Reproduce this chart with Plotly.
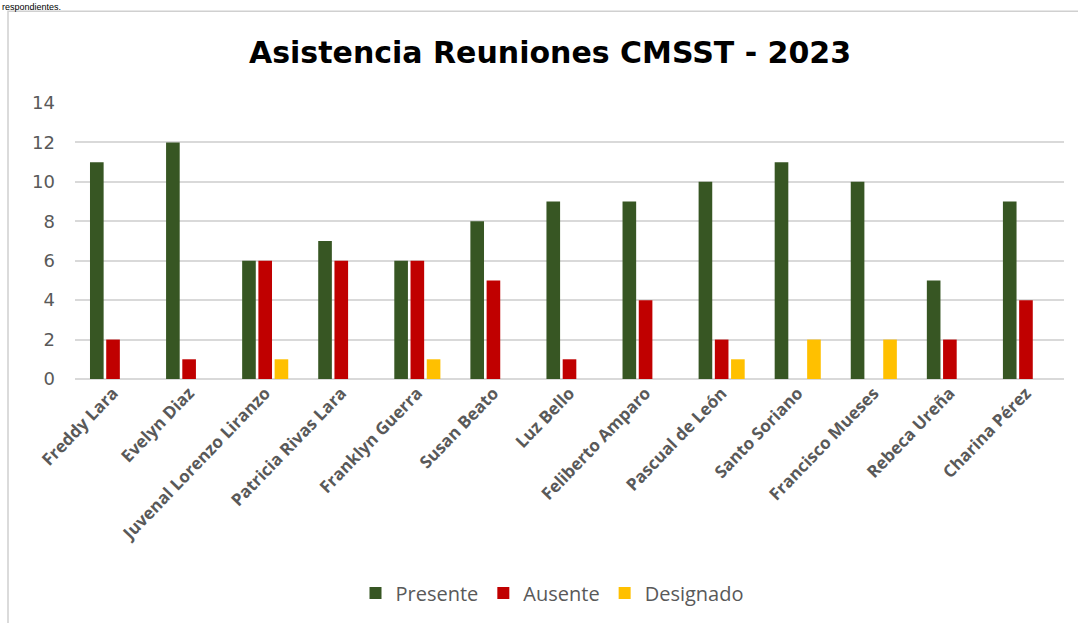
import plotly.graph_objects as go

categories = ["Freddy Lara", "Evelyn Diaz", "Juvenal Lorenzo Liranzo", "Patricia Rivas Lara",
              "Franklyn Guerra", "Susan Beato", "Luz Bello", "Feliberto Amparo",
              "Pascual de León", "Santo Soriano", "Francisco Mueses", "Rebeca Ureña",
              "Charina Pérez"]
presente = [11, 12, 6, 7, 6, 8, 9, 9, 10, 11, 10, 5, 9]
ausente = [2, 1, 6, 6, 6, 5, 1, 4, 2, 0, 0, 2, 4]
designado = [0, 0, 1, 0, 1, 0, 0, 0, 1, 2, 2, 0, 0]
y_ticks = [0, 2, 4, 6, 8, 10, 12, 14]

W, H = 1078, 623
L, R, T, B = 75, 14, 103, 243
pw, ph = W - L - R, H - T - B

def px(x):
    return (x - L) / pw

def py(y):
    return (H - B - y) / ph

fig = go.Figure()
for name, vals, col in [("Presente", presente, "#375623"),
                        ("Ausente", ausente, "#C00000"),
                        ("Designado", designado, "#FFC000")]:
    fig.add_trace(go.Bar(name=name, x=categories, y=vals, marker_color=col,
                         marker_line_width=0))

fig.update_layout(
    width=W, height=H,
    margin=dict(l=L, r=R, t=T, b=B),
    paper_bgcolor="white", plot_bgcolor="white",
    barmode="group", bargap=0.36, bargroupgap=0.16,
    font=dict(family="Open Sans, sans-serif", color="#595959"),
    showlegend=True,
    legend=dict(orientation="h", x=px(552), xanchor="center", y=py(593), yanchor="middle",
                font=dict(size=20, color="#595959", family="Open Sans, sans-serif"),
                itemwidth=30, traceorder="normal"),
    xaxis=dict(tickangle=-46, tickfont=dict(size=17, color="#595959", family="Open Sans, sans-serif", weight="bold"),
               showgrid=False, showline=False, ticks=""),
    yaxis=dict(range=[0, 14], tickvals=y_ticks, showgrid=True, gridcolor="#D9D9D9", gridwidth=1.5,
               zeroline=True, zerolinecolor="#D9D9D9", zerolinewidth=1.5,
               tickfont=dict(size=18, color="#595959", family="DejaVu Sans, sans-serif"),
               ticks="", ticklen=0, ticklabelstandoff=19),
    shapes=[dict(type="rect", xref="paper", yref="paper",
                 x0=px(8), x1=px(1095), y0=py(11), y1=py(640),
                 line=dict(color="#D0D0D0", width=1.5), fillcolor="rgba(0,0,0,0)", layer="below")],
    annotations=[
        dict(text="<b>Asistencia Reuniones CMSST - 2023</b>", xref="paper", yref="paper",
             x=px(550), y=py(52), xanchor="center", yanchor="middle", showarrow=False,
             font=dict(size=30, color="black", family="DejaVu Sans, sans-serif")),
        dict(text="respondientes.", xref="paper", yref="paper",
             x=px(0), y=py(0), xanchor="left", yanchor="top", showarrow=False,
             font=dict(size=9, color="black", family="Liberation Sans, Arial, sans-serif")),
    ],
)

fig.write_html("out.html", config={"displayModeBar": False},
               post_script="document.body.style.margin='0';")
